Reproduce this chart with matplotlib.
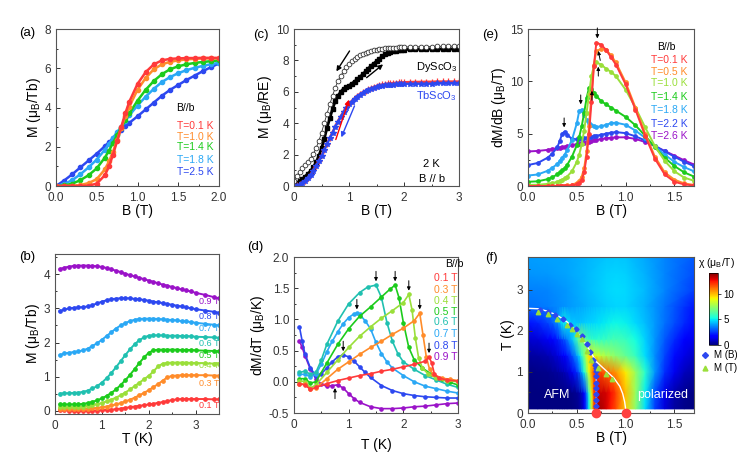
import numpy as np
import matplotlib
matplotlib.use("Agg")
import matplotlib.pyplot as plt
from matplotlib.ticker import AutoMinorLocator, MultipleLocator, FormatStrFormatter
from matplotlib.lines import Line2D

plt.rcParams['font.family'] = ['Liberation Sans', 'DejaVu Sans']
plt.rcParams['mathtext.fontset'] = 'custom'
plt.rcParams['mathtext.rm'] = 'Liberation Sans'
plt.rcParams['mathtext.it'] = 'Liberation Sans:italic'

# colours
c_red = '#FF3A3A'
c_orange = '#FF8C2A'
c_yg = '#9ADF3A'
c_green = '#1CCB1C'
c_teal = '#20C0B0'
c_lblue = '#2AA8F5'
c_blue = '#2D48F0'
c_purple = '#9A12C8'

# ---------------- (a) M vs B ----------------
B_a = [0, 0.1, 0.2, 0.3, 0.4, 0.5, 0.6, 0.65, 0.7, 0.75, 0.8, 0.85, 0.9, 1.0,
       1.1, 1.2, 1.3, 1.4, 1.5, 1.6, 1.7, 1.8, 1.9, 2.0]
M_a_01 = [0, 0, 0, 0, 0.02, 0.12, 0.55, 1.0, 1.6, 2.3, 3.0, 3.7, 4.3, 5.2,
          5.8, 6.2, 6.4, 6.48, 6.5, 6.52, 6.52, 6.53, 6.53, 6.53]
M_a_10 = [0, 0, 0.01, 0.05, 0.15, 0.35, 0.85, 1.25, 1.75, 2.35, 2.95, 3.55, 4.05, 4.9,
          5.5, 5.95, 6.2, 6.33, 6.4, 6.45, 6.48, 6.5, 6.5, 6.5]
M_a_14 = [0, 0.03, 0.12, 0.3, 0.55, 0.9, 1.45, 1.8, 2.2, 2.6, 2.98, 3.35, 3.7, 4.35,
          4.9, 5.35, 5.7, 5.95, 6.1, 6.2, 6.27, 6.32, 6.36, 6.4]
M_a_18 = [0, 0.1, 0.3, 0.6, 0.95, 1.35, 1.85, 2.15, 2.45, 2.75, 3.0, 3.3, 3.6, 4.1,
          4.55, 4.95, 5.3, 5.55, 5.75, 5.9, 6.02, 6.12, 6.2, 6.28]
M_a_25 = [0, 0.28, 0.6, 0.95, 1.3, 1.65, 2.03, 2.23, 2.43, 2.63, 2.85, 3.05, 3.22, 3.55,
          3.9, 4.25, 4.6, 4.9, 5.15, 5.4, 5.62, 5.85, 6.05, 6.25]
labels_a = ['T=0.1 K', 'T=1.0 K', 'T=1.4 K', 'T=1.8 K', 'T=2.5 K']
colors_a = ['#FF3A3A', '#FF8C2A', '#1CCB1C', '#2AA8F5', '#2D48F0']

# ---------------- (b) M vs T ----------------
T_b = [0.1, 0.2, 0.3, 0.4, 0.5, 0.6, 0.7, 0.8, 0.9, 1.0, 1.1, 1.2, 1.3, 1.4, 1.5, 1.6, 1.7,
       1.8, 1.9, 2.0, 2.1, 2.2, 2.3, 2.4, 2.5, 2.6, 2.7, 2.8, 2.9, 3.0, 3.2, 3.4, 3.5]
M_b_09 = [4.15, 4.2, 4.23, 4.25, 4.26, 4.26, 4.26, 4.25, 4.24, 4.22, 4.19, 4.15, 4.11, 4.07,
          4.02, 3.98, 3.94, 3.9, 3.86, 3.82, 3.78, 3.74, 3.7, 3.67, 3.63, 3.6, 3.56, 3.53,
          3.5, 3.46, 3.4, 3.33, 3.3]
M_b_08 = [2.92, 2.97, 3.0, 3.02, 3.03, 3.04, 3.06, 3.1, 3.15, 3.2, 3.24, 3.27, 3.29, 3.3,
          3.3, 3.3, 3.28, 3.27, 3.25, 3.23, 3.2, 3.18, 3.16, 3.13, 3.11, 3.08, 3.06, 3.03,
          3.01, 2.98, 2.94, 2.9, 2.88]
M_b_07 = [1.63, 1.68, 1.7, 1.72, 1.74, 1.77, 1.82, 1.9, 1.98, 2.08, 2.19, 2.3, 2.41, 2.5,
          2.57, 2.63, 2.67, 2.69, 2.7, 2.7, 2.7, 2.69, 2.68, 2.67, 2.66, 2.65, 2.63, 2.62,
          2.6, 2.58, 2.55, 2.52, 2.5]
M_b_06 = [0.5, 0.51, 0.51, 0.52, 0.53, 0.55, 0.59, 0.65, 0.72, 0.82, 0.95, 1.1, 1.27, 1.45,
          1.63, 1.8, 1.95, 2.07, 2.15, 2.2, 2.21, 2.21, 2.21, 2.2, 2.2, 2.2, 2.19, 2.19,
          2.18, 2.17, 2.16, 2.15, 2.14]
M_b_05 = [0.18, 0.18, 0.18, 0.18, 0.18, 0.2, 0.22, 0.26, 0.3, 0.36, 0.43, 0.52, 0.62, 0.75,
          0.89, 1.05, 1.22, 1.4, 1.56, 1.7, 1.77, 1.79, 1.79, 1.79, 1.79, 1.79, 1.78, 1.78,
          1.78, 1.77, 1.76, 1.75, 1.75]
M_b_04 = [0.1, 0.1, 0.1, 0.1, 0.11, 0.12, 0.14, 0.16, 0.19, 0.22, 0.27, 0.32, 0.38, 0.45,
          0.53, 0.62, 0.72, 0.82, 0.92, 1.02, 1.15, 1.3, 1.38, 1.4, 1.41, 1.41, 1.41, 1.41,
          1.4, 1.4, 1.39, 1.38, 1.38]
M_b_03 = [0.05, 0.05, 0.04, 0.04, 0.04, 0.05, 0.06, 0.07, 0.08, 0.1, 0.12, 0.15, 0.18, 0.22,
          0.27, 0.32, 0.38, 0.45, 0.52, 0.6, 0.69, 0.78, 0.88, 0.98, 1.02, 1.03, 1.04, 1.04,
          1.04, 1.04, 1.04, 1.03, 1.03]
M_b_01 = [0.03, 0.02, 0.0, -0.01, -0.01, -0.01, -0.01, 0.0, 0.0, 0.01, 0.02, 0.03, 0.04, 0.06,
          0.08, 0.1, 0.12, 0.14, 0.16, 0.18, 0.2, 0.23, 0.25, 0.28, 0.31, 0.33, 0.34, 0.34,
          0.34, 0.34, 0.34, 0.33, 0.33]
labels_b = ['0.9 T', '0.8 T', '0.7 T', '0.6 T', '0.5 T', '0.4 T', '0.3 T', '0.1 T']
colors_b = [c_purple, c_blue, c_lblue, c_teal, c_green, c_yg, c_orange, c_red]
label_y_b = [3.21, 2.77, 2.40, 1.98, 1.62, 1.33, 0.81, 0.14]

# ---------------- (c) M vs B, DyScO3 / TbScO3 ----------------
B_c = np.concatenate([np.arange(0, 2.001, 0.05), np.arange(2.1, 3.001, 0.1)])
M_dy_down = [0.35, 0.65, 0.9, 1.12, 1.35, 1.55, 1.75, 2.05, 2.4, 2.85,
             3.4, 4.0, 4.6, 5.2, 5.75, 6.25, 6.7, 7.02, 7.3, 7.57,
             7.8, 7.96, 8.1, 8.22, 8.33, 8.42, 8.5, 8.55, 8.6, 8.64,
             8.68, 8.71, 8.74, 8.76, 8.78, 8.8, 8.81, 8.82, 8.83, 8.84,
             8.85,
             8.86, 8.87, 8.87, 8.88, 8.88, 8.89, 8.89, 8.9, 8.9, 8.9]
M_dy_up = [0.1, 0.2, 0.3, 0.45, 0.6, 0.78, 0.95, 1.2, 1.5, 1.9,
           2.4, 3.0, 3.7, 4.3, 4.9, 5.4, 5.75, 6.0, 6.2, 6.3,
           6.4, 6.52, 6.65, 6.8, 6.95, 7.12, 7.3, 7.48, 7.65, 7.8,
           7.95, 8.1, 8.25, 8.38, 8.48, 8.55, 8.6, 8.63, 8.66, 8.68,
           8.69,
           8.7, 8.71, 8.71, 8.72, 8.72, 8.72, 8.72, 8.72, 8.72, 8.72]
M_tb_up = [0, 0.04, 0.1, 0.2, 0.35, 0.53, 0.75, 1.0, 1.3, 1.62,
           1.95, 2.32, 2.7, 3.08, 3.45, 3.8, 4.15, 4.46, 4.75, 5.01,
           5.25, 5.43, 5.6, 5.75, 5.88, 5.98, 6.08, 6.17, 6.25, 6.32,
           6.38, 6.43, 6.47, 6.5, 6.53, 6.55, 6.57, 6.58, 6.6, 6.61,
           6.62,
           6.63, 6.64, 6.64, 6.65, 6.65, 6.66, 6.66, 6.66, 6.66, 6.66]
M_tb_down = [0, 0.03, 0.08, 0.17, 0.3, 0.48, 0.7, 0.95, 1.25, 1.57,
             1.9, 2.27, 2.65, 3.03, 3.4, 3.75, 4.1, 4.41, 4.7, 4.96,
             5.2, 5.38, 5.55, 5.69, 5.82, 5.92, 6.02, 6.1, 6.18, 6.24,
             6.3, 6.34, 6.38, 6.41, 6.43, 6.45, 6.46, 6.47, 6.48, 6.49,
             6.5,
             6.51, 6.51, 6.52, 6.52, 6.52, 6.53, 6.53, 6.53, 6.53, 6.53]

# ---------------- (d) dM/dT vs T ----------------
T_d01 = [0.1, 0.2, 0.3, 0.4, 0.6, 0.8, 1.0, 1.2, 1.4, 1.6, 1.8, 2.0, 2.2, 2.4, 2.47, 2.52,
         2.57, 2.65, 2.8, 3.0]
d_01 = [-0.03, -0.05, -0.12, -0.09, -0.03, 0.02, 0.06, 0.1, 0.13, 0.17, 0.2, 0.24, 0.28,
        0.33, 0.4, 0.3, 0.12, 0.06, 0.03, 0.01]
T_d03 = [0.1, 0.2, 0.3, 0.4, 0.6, 0.8, 1.0, 1.2, 1.4, 1.6, 1.8, 2.0, 2.2, 2.3, 2.36, 2.42,
         2.48, 2.55, 2.7, 2.85, 3.0]
d_03 = [-0.03, -0.04, -0.12, -0.1, 0.05, 0.2, 0.32, 0.44, 0.55, 0.65, 0.76, 0.86, 0.98, 1.1,
        0.75, 0.4, 0.2, 0.12, 0.06, 0.04, 0.02]
T_d04 = [0.1, 0.2, 0.3, 0.4, 0.6, 0.8, 1.0, 1.2, 1.4, 1.6, 1.8, 2.0, 2.1, 2.16, 2.22, 2.28,
         2.35, 2.45, 2.6, 2.8, 3.0]
d_04 = [0.02, 0.0, -0.1, -0.05, 0.15, 0.35, 0.55, 0.73, 0.88, 1.02, 1.14, 1.27, 1.4, 1.15,
        0.7, 0.38, 0.22, 0.13, 0.06, 0.02, 0.0]
T_d05 = [0.1, 0.2, 0.3, 0.4, 0.6, 0.8, 1.0, 1.2, 1.4, 1.6, 1.75, 1.85, 1.92, 2.0, 2.1, 2.2,
         2.35, 2.5, 2.7, 2.85, 3.0]
d_05 = [0.05, 0.05, -0.02, 0.0, 0.3, 0.6, 0.85, 1.05, 1.2, 1.36, 1.48, 1.55, 1.35, 0.95,
        0.55, 0.35, 0.22, 0.13, 0.04, -0.01, -0.05]
T_d06 = [0.1, 0.2, 0.3, 0.4, 0.5, 0.6, 0.8, 1.0, 1.2, 1.35, 1.5, 1.6, 1.7, 1.8, 1.9, 2.0,
         2.2, 2.4, 2.6, 2.8, 3.0]
d_06 = [0.15, 0.17, 0.12, 0.15, 0.35, 0.6, 0.97, 1.25, 1.43, 1.52, 1.55, 1.35, 0.95, 0.65,
        0.45, 0.32, 0.2, 0.1, 0.03, -0.04, -0.09]
T_d07 = [0.1, 0.2, 0.3, 0.4, 0.5, 0.6, 0.7, 0.8, 0.9, 1.0, 1.1, 1.15, 1.2, 1.3, 1.4, 1.5,
         1.6, 1.7, 1.8, 2.0, 2.2, 2.4, 2.6, 2.8, 3.0]
d_07 = [0.12, 0.12, 0.08, 0.12, 0.28, 0.48, 0.65, 0.8, 0.93, 1.03, 1.09, 1.1, 1.08, 0.98,
        0.85, 0.63, 0.45, 0.32, 0.22, 0.1, 0.0, -0.07, -0.11, -0.15, -0.18]
T_d08 = [0.1, 0.15, 0.2, 0.3, 0.4, 0.5, 0.6, 0.7, 0.8, 0.9, 1.0, 1.1, 1.2, 1.3, 1.4, 1.6,
         1.8, 2.0, 2.2, 2.4, 2.6, 2.8, 3.0]
d_08 = [0.88, 0.65, 0.45, 0.22, 0.1, 0.13, 0.22, 0.32, 0.4, 0.43, 0.4, 0.33, 0.24, 0.15,
        0.07, -0.06, -0.14, -0.19, -0.22, -0.24, -0.25, -0.26, -0.26]
T_d09 = [0.1, 0.15, 0.2, 0.3, 0.4, 0.5, 0.6, 0.7, 0.8, 0.9, 1.0, 1.1, 1.2, 1.4, 1.6, 1.8,
         2.0, 2.2, 2.4, 2.6, 2.8, 3.0]
d_09 = [0.65, 0.55, 0.42, 0.2, 0.05, -0.04, -0.07, -0.06, -0.05, -0.1, -0.19, -0.27, -0.33,
        -0.4, -0.43, -0.43, -0.42, -0.4, -0.39, -0.37, -0.35, -0.34]
labels_d = ['0.1 T', '0.3 T', '0.4 T', '0.5 T', '0.6 T', '0.7 T', '0.8 T', '0.9 T']
colors_d = [c_red, c_orange, c_yg, c_green, c_teal, c_lblue, c_blue, c_purple]
peaks_d = [(2.47, 0.4), (2.3, 1.1), (2.1, 1.4), (1.85, 1.55), (1.5, 1.55), (1.15, 1.1), (0.9, 0.43)]

# ---------------- (e) dM/dB vs B ----------------
B_e = [0, 0.1, 0.2, 0.25, 0.3, 0.325, 0.35, 0.375, 0.4, 0.45, 0.5, 0.525, 0.55, 0.575, 0.6,
       0.625, 0.65, 0.675, 0.7, 0.75, 0.8, 0.85, 0.9, 1.0, 1.1, 1.2, 1.3, 1.4, 1.5, 1.6, 1.7]
e_01 = [0, 0, 0, 0, 0, 0, 0, 0, 0, 0.05, 0.15, 0.3, 0.6, 1.3, 2.8, 5.0, 8.0, 11.5, 13.7,
        13.5, 13.0, 12.3, 11.6, 9.7, 7.3, 4.8, 2.6, 1.1, 0.4, 0.15, 0.05]
e_05 = [0, 0, 0, 0, 0, 0.02, 0.03, 0.04, 0.05, 0.12, 0.3, 0.5, 0.9, 1.7, 3.3, 5.7, 8.8, 11.6,
        12.9, 13.1, 13.0, 12.5, 11.8, 9.9, 7.5, 5.0, 2.8, 1.3, 0.6, 0.25, 0.1]
e_10 = [0.1, 0.12, 0.2, 0.28, 0.4, 0.5, 0.6, 0.75, 0.9, 1.4, 2.3, 3.0, 4.0, 5.3, 7.0, 8.8,
        10.5, 11.5, 11.8, 11.6, 11.2, 10.9, 10.5, 9.2, 7.5, 5.6, 3.8, 2.4, 1.4, 0.8, 0.5]
e_14 = [0.4, 0.45, 0.65, 0.85, 1.1, 1.3, 1.5, 1.7, 2.0, 2.8, 3.9, 4.7, 5.7, 7.0, 8.4, 9.4,
        9.3, 8.9, 8.6, 8.1, 7.8, 7.5, 7.2, 6.6, 5.8, 4.8, 3.7, 2.7, 1.9, 1.3, 0.9]
e_18 = [1.0, 1.1, 1.45, 1.75, 2.1, 2.4, 2.7, 3.0, 3.4, 4.4, 6.0, 7.2, 7.3, 6.8, 6.3, 6.0,
        5.8, 5.7, 5.65, 5.7, 5.85, 6.0, 6.05, 5.85, 5.3, 4.6, 3.8, 3.0, 2.3, 1.8, 1.4]
e_22 = [2.0, 2.2, 2.7, 3.1, 3.7, 4.3, 5.0, 5.2, 4.9, 4.5, 4.45, 4.45, 4.5, 4.55, 4.6, 4.65,
        4.7, 4.75, 4.8, 4.9, 5.0, 5.1, 5.15, 5.05, 4.75, 4.35, 3.85, 3.3, 2.8, 2.3, 1.9]
e_26 = [3.3, 3.35, 3.45, 3.55, 3.6, 3.65, 3.7, 3.75, 3.8, 3.9, 4.0, 4.05, 4.1, 4.15, 4.2,
        4.25, 4.3, 4.35, 4.4, 4.5, 4.55, 4.6, 4.65, 4.65, 4.5, 4.2, 3.8, 3.35, 2.9, 2.45, 2.05]
T_e = [0.1, 0.5, 1.0, 1.4, 1.8, 2.2, 2.6]
labels_e = ['T=0.1 K', 'T=0.5 K', 'T=1.0 K', 'T=1.4 K', 'T=1.8 K', 'T=2.2 K', 'T=2.6 K']
colors_e = [c_red, c_orange, c_yg, c_green, c_lblue, c_blue, c_purple]
label_y_e = [12.0, 10.9, 9.8, 8.5, 7.25, 5.97, 4.76]

# ---------------- (f) phase diagram ----------------
B_hi = [0, 0.2, 0.4, 0.6, 0.8, 0.9, 1.0, 1.2, 1.4, 1.7]
T_hi = [2.6, 3.0, 3.4, 3.8]
chi_hi = [[3.3, 3.45, 3.8, 4.2, 4.55, 4.65, 4.65, 4.2, 3.35, 2.05],
          [3.5, 3.6, 3.85, 4.3, 4.7, 4.8, 4.75, 4.3, 3.6, 2.6],
          [3.8, 3.85, 4.0, 4.3, 4.6, 4.65, 4.6, 4.2, 3.6, 2.8],
          [3.9, 3.95, 4.0, 4.25, 4.45, 4.5, 4.45, 4.1, 3.6, 3.0]]
MB_B = [0.12, 0.2, 0.28, 0.36, 0.43, 0.49, 0.55, 0.6, 0.64, 0.67, 0.69, 0.7, 0.7, 0.7, 0.7,
        0.7, 0.7, 0.7, 0.7]
MB_T = [2.51, 2.46, 2.38, 2.28, 2.15, 2.04, 1.88, 1.68, 1.48, 1.3, 1.17, 1.02, 0.89, 0.74,
        0.6, 0.46, 0.32, 0.17, 1.1]
MT_B = [0.1, 0.2, 0.3, 0.4, 0.45, 0.5, 0.55, 0.6, 0.65, 0.72, 0.8, 0.86]
MT_T = [2.45, 2.4, 2.3, 2.15, 2.05, 1.93, 1.8, 1.52, 1.28, 1.1, 0.95, 0.83]
line1_B = [0, 0.1, 0.2, 0.3, 0.4, 0.5, 0.6, 0.65, 0.7, 0.7]
line1_T = [2.55, 2.54, 2.48, 2.38, 2.22, 1.98, 1.65, 1.45, 1.25, 0.1]
line2_B = [0.7, 0.8, 0.88, 0.94, 0.97, 0.99, 1.0]
line2_T = [1.25, 1.03, 0.85, 0.65, 0.47, 0.27, 0.1]
crit_B = [0.7, 1.0]


def style(ax):
    for s in ax.spines.values():
        s.set_color('#555555')
        s.set_linewidth(0.8)
    ax.xaxis.set_minor_locator(AutoMinorLocator(2))
    ax.yaxis.set_minor_locator(AutoMinorLocator(2))
    ax.tick_params(which='both', direction='in', top=False, right=False,
                   labelsize=8.5, width=0.7, colors='#333333')
    ax.tick_params(axis='x', pad=4.5)
    ax.tick_params(axis='y', pad=3.5)
    ax.tick_params(which='major', length=3)
    ax.tick_params(which='minor', length=1.6)


fig = plt.figure(figsize=(7.47, 4.66), dpi=100)
W, H = 747.0, 466.0


def axes_px(x0, x1, ytop, ybot):
    return fig.add_axes([x0 / W, 1 - ybot / H, (x1 - x0) / W, (ybot - ytop) / H])


ax_a = axes_px(56, 219, 29, 186)
ax_c = axes_px(294, 459, 29, 186)
ax_e = axes_px(528, 694, 29, 186)
ax_b = axes_px(55, 219, 254, 414)
ax_d = axes_px(294, 458, 257, 413)
ax_f = axes_px(528, 694, 257, 413)

ylab = dict(fontsize=10, labelpad=1)

# (a)
for M, col in zip([M_a_25, M_a_18, M_a_14, M_a_10, M_a_01], colors_a[::-1]):
    ax_a.plot(B_a, M, '-o', color=col, lw=1.8, ms=3)
ax_a.set_xlim(0, 2)
ax_a.set_ylim(0, 8)
ax_a.xaxis.set_major_locator(MultipleLocator(0.5))
ax_a.xaxis.set_major_formatter(FormatStrFormatter('%.1f'))
ax_a.yaxis.set_major_locator(MultipleLocator(2))
ax_a.set_xlabel('B (T)', fontsize=10, labelpad=0)
ax_a.set_ylabel('M (μ$_\\mathrm{B}$/Tb)', **ylab)
ax_a.text(1.48, 3.96, 'B//b', fontsize=7.5, va='center')
for lab, col, y in zip(labels_a, colors_a, [3.05, 2.51, 1.98, 1.35, 0.7]):
    ax_a.text(1.48, y, lab, color=col, fontsize=7.5, va='center')
style(ax_a)

# (b)
for M, col in zip([M_b_01, M_b_03, M_b_04, M_b_05, M_b_06, M_b_07, M_b_08, M_b_09],
                  colors_b[::-1]):
    ax_b.plot(T_b, M, '-o', color=col, lw=1.4, ms=2.4)
for lab, col, y in zip(labels_b, colors_b, label_y_b):
    ax_b.text(3.07, y, lab, color=col, fontsize=6.5, va='center')
ax_b.set_xlim(0, 3.5)
ax_b.set_ylim(-0.1, 4.6)
ax_b.xaxis.set_major_locator(MultipleLocator(1))
ax_b.yaxis.set_major_locator(MultipleLocator(1))
ax_b.set_xlabel('T (K)', fontsize=10, labelpad=0)
ax_b.set_ylabel('M (μ$_\\mathrm{B}$/Tb)', **ylab)
style(ax_b)

# (c)
ax_c.plot(B_c, M_dy_up, '-s', color='k', lw=2.0, ms=2.4)
ax_c.plot(B_c, M_dy_down, '-o', color='#333333', mfc='white', lw=0.6, mew=0.6, ms=3.4)
ax_c.plot(B_c, M_tb_up, '-+', color=c_red, lw=1.5, ms=4, mew=0.9)
ax_c.plot(B_c, M_tb_down, '-*', color=c_blue, lw=1.5, ms=4)
arr = dict(arrowstyle='-|>', lw=1.0, mutation_scale=7, shrinkA=0, shrinkB=0)
ax_c.annotate('', xy=(0.77, 7.3), xytext=(1.01, 8.6), arrowprops=dict(color='k', **arr))
ax_c.annotate('', xy=(1.62, 7.75), xytext=(1.32, 6.9), arrowprops=dict(color='k', **arr))
ax_c.annotate('', xy=(1.0, 5.5), xytext=(0.76, 2.96), arrowprops=dict(color='red', **arr))
ax_c.annotate('', xy=(0.86, 3.1), xytext=(1.1, 5.1), arrowprops=dict(color=c_blue, **arr))
ax_c.text(2.22, 7.6, 'DyScO$_3$', fontsize=8, va='center')
ax_c.text(2.22, 5.7, 'TbScO$_3$', fontsize=8, va='center', color=c_blue)
ax_c.text(2.35, 1.38, '2 K', fontsize=8, va='center')
ax_c.text(2.28, 0.42, 'B // b', fontsize=8, va='center')
ax_c.set_xlim(0, 3)
ax_c.set_ylim(0, 10)
ax_c.xaxis.set_major_locator(MultipleLocator(1))
ax_c.yaxis.set_major_locator(MultipleLocator(2))
ax_c.set_xlabel('B (T)', fontsize=10, labelpad=0)
ax_c.set_ylabel('M (μ$_\\mathrm{B}$/RE)', **ylab)
style(ax_c)

# (d)
d_sets = [(T_d09, d_09), (T_d08, d_08), (T_d07, d_07), (T_d06, d_06),
          (T_d05, d_05), (T_d04, d_04), (T_d03, d_03), (T_d01, d_01)]
for (tt, dd), col in zip(d_sets, colors_d[::-1]):
    ax_d.plot(tt, dd, '-o', color=col, lw=1.2, ms=2.3)
arr_k = dict(arrowstyle='-|>', color='k', lw=0.7, mutation_scale=5, shrinkA=0, shrinkB=0)
for x, y in peaks_d:
    ax_d.annotate('', xy=(x, y + 0.06), xytext=(x, y + 0.22), arrowprops=arr_k)
ax_d.annotate('', xy=(0.75, -0.1), xytext=(0.75, -0.27), arrowprops=arr_k)
ax_d.text(2.76, 1.89, 'B//b', fontsize=7.5, va='center')
for lab, col, y in zip(labels_d, colors_d, [1.67, 1.47, 1.29, 1.12, 0.96, 0.77, 0.58, 0.40]):
    ax_d.text(2.56, y, lab, color=col, fontsize=7.5, va='center')
ax_d.set_xlim(0, 3)
ax_d.set_ylim(-0.5, 2.0)
ax_d.xaxis.set_major_locator(MultipleLocator(1))
ax_d.yaxis.set_major_locator(MultipleLocator(0.5))
ax_d.yaxis.set_major_formatter(FormatStrFormatter('%.1f'))
ax_d.set_xlabel('T (K)', fontsize=10, labelpad=5)
ax_d.set_ylabel('dM/dT (μ$_\\mathrm{B}$/K)', **ylab)
style(ax_d)

# (e)
e_curves = [e_01, e_05, e_10, e_14, e_18, e_22, e_26]
for ee, col in zip(e_curves[::-1], colors_e[::-1]):
    ax_e.plot(B_e, ee, '-o', color=col, lw=1.4, ms=2.4)
ax_e.annotate('', xy=(0.71, 14.1), xytext=(0.71, 15.1), arrowprops=arr_k)
ax_e.annotate('', xy=(0.72, 12.9), xytext=(0.74, 12.0), arrowprops=arr_k)
ax_e.annotate('', xy=(0.72, 11.4), xytext=(0.72, 10.5), arrowprops=arr_k)
ax_e.annotate('', xy=(0.655, 9.1), xytext=(0.655, 8.2), arrowprops=arr_k)
ax_e.annotate('', xy=(0.54, 7.8), xytext=(0.54, 8.7), arrowprops=arr_k)
ax_e.annotate('', xy=(0.37, 5.6), xytext=(0.37, 6.5), arrowprops=arr_k)
ax_e.text(1.32, 13.3, 'B//b', fontsize=7.5, va='center')
for lab, col, y in zip(labels_e, colors_e, label_y_e):
    ax_e.text(1.26, y, lab, color=col, fontsize=7.5, va='center')
ax_e.set_xlim(0, 1.7)
ax_e.set_ylim(0, 15)
ax_e.xaxis.set_major_locator(MultipleLocator(0.5))
ax_e.xaxis.set_major_formatter(FormatStrFormatter('%.1f'))
ax_e.yaxis.set_major_locator(MultipleLocator(5))
ax_e.set_xlabel('B (T)', fontsize=10, labelpad=0)
ax_e.set_ylabel('dM/dB (μ$_\\mathrm{B}$/T)', **ylab)
style(ax_e)

# (f)
chi_lo = np.array(e_curves)
pm = ax_f.pcolormesh(B_e, T_e, chi_lo, shading='gouraud', cmap='jet', vmin=0, vmax=14)
ax_f.pcolormesh(B_hi, T_hi, np.array(chi_hi), shading='gouraud', cmap='jet', vmin=0, vmax=14)
ax_f.plot(line1_B, line1_T, color='white', lw=1.0)
ax_f.plot(line2_B, line2_T, color='white', lw=1.0)
ax_f.plot(MB_B, MB_T, 'D', color=c_blue, ms=2.6, ls='none')
ax_f.plot(MT_B, MT_T, '^', color=c_yg, ms=3.2, ls='none')
ax_f.plot(crit_B, [0, 0], 'o', color='#FF4040', ms=6, clip_on=False, zorder=5)
ax_f.text(0.3, 0.45, 'AFM', color='white', fontsize=9, ha='center', va='center')
ax_f.text(1.38, 0.45, 'polarized', color='white', fontsize=9, ha='center', va='center')
ax_f.set_xlim(0, 1.7)
ax_f.set_ylim(0, 3.8)
ax_f.xaxis.set_major_locator(MultipleLocator(0.5))
ax_f.xaxis.set_major_formatter(FormatStrFormatter('%.1f'))
ax_f.yaxis.set_major_locator(MultipleLocator(1))
ax_f.set_xlabel('B (T)', fontsize=10, labelpad=0)
ax_f.set_ylabel('T (K)', **ylab)
style(ax_f)

cax = fig.add_axes([709 / W, 1 - 345 / H, 9 / W, 72 / H])
cb = fig.colorbar(pm, cax=cax, ticks=[0, 5, 10])
cb.outline.set_linewidth(0.5)
cax.tick_params(labelsize=7, length=2, width=0.5, pad=2)
fig.text(717 / W, 1 - 263 / H, 'χ (μ$_\\mathrm{B}$/T)', fontsize=7.5, ha='center', va='center')

handles = [Line2D([], [], marker='D', color=c_blue, ls='none', ms=3, label='M (B)'),
           Line2D([], [], marker='^', color=c_yg, ls='none', ms=3.5, label='M (T)')]
fig.legend(handles=handles, loc='upper left', bbox_to_anchor=(700 / W, 1 - 350 / H),
           frameon=False, fontsize=7, handlelength=1, handletextpad=0.4,
           labelspacing=0.35, borderaxespad=0, borderpad=0)

# panel letters
for lab, x, y in [('(a)', 27, 33), ('(b)', 27, 257), ('(c)', 261, 35),
                  ('(d)', 255, 247), ('(e)', 490, 35), ('(f)', 491, 258)]:
    fig.text(x / W, 1 - y / H, lab, fontsize=9.5, ha='center', va='center')

fig.savefig('out.png', dpi=100)
